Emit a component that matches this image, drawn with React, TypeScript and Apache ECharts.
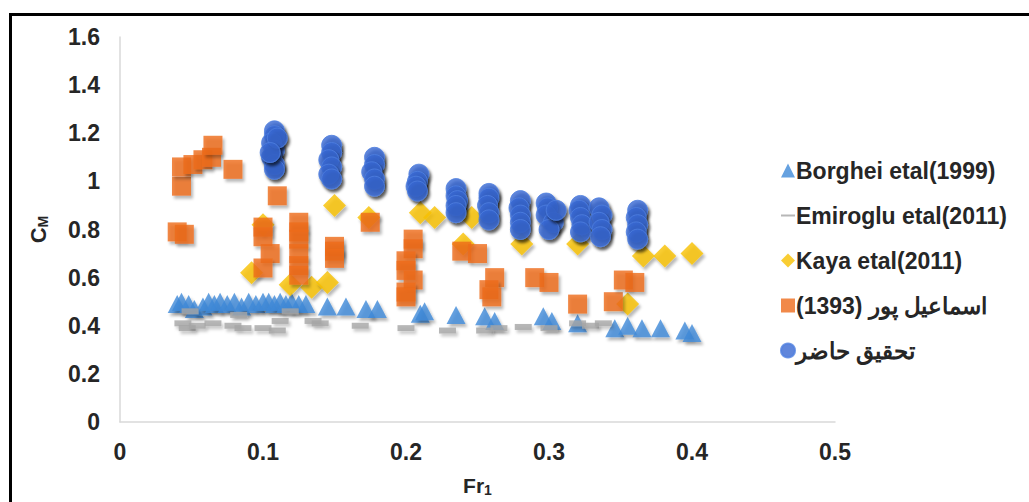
import React, { useEffect, useRef } from "react";
import * as echarts from "echarts";

const xTicks = [0, 0.1, 0.2, 0.3, 0.4, 0.5];
const yTicks = [0, 0.2, 0.4, 0.6, 0.8, 1, 1.2, 1.4, 1.6];

const seriesNames = [
  "Borghei etal(1999)",
  "Emiroglu etal(2011)",
  "Kaya etal(2011)",
  "(1393) اسماعیل پور",
  "تحقیق حاضر",
];

const borghei: number[][] = [
  [0.04, 0.49], [0.043, 0.5], [0.048, 0.49], [0.052, 0.47], [0.058, 0.48], [0.062, 0.5],
  [0.066, 0.49], [0.07, 0.5], [0.075, 0.49], [0.08, 0.5], [0.085, 0.48], [0.09, 0.5],
  [0.095, 0.49], [0.1, 0.5], [0.104, 0.5], [0.108, 0.49], [0.112, 0.5], [0.116, 0.49],
  [0.12, 0.5], [0.125, 0.49], [0.13, 0.49], [0.145, 0.48], [0.158, 0.48], [0.172, 0.47],
  [0.18, 0.47], [0.21, 0.45], [0.213, 0.46], [0.235, 0.445], [0.255, 0.44], [0.262, 0.42],
  [0.296, 0.44], [0.302, 0.42], [0.32, 0.41], [0.346, 0.39], [0.355, 0.4], [0.365, 0.39],
  [0.378, 0.39], [0.395, 0.38], [0.4, 0.37],
];

const emiroglu: number[][] = [
  [0.044, 0.41], [0.047, 0.39], [0.049, 0.46], [0.054, 0.4], [0.065, 0.41], [0.079, 0.4],
  [0.083, 0.445], [0.086, 0.39], [0.1, 0.39], [0.11, 0.38], [0.112, 0.42], [0.119, 0.46],
  [0.135, 0.42], [0.14, 0.41], [0.168, 0.4], [0.2, 0.39], [0.229, 0.38], [0.255, 0.38],
  [0.265, 0.39], [0.282, 0.395], [0.3, 0.39], [0.32, 0.41], [0.329, 0.4], [0.338, 0.41],
];

const kaya: number[][] = [
  [0.092, 0.62], [0.1, 0.82], [0.119, 0.57], [0.134, 0.56], [0.145, 0.58], [0.15, 0.9],
  [0.174, 0.85], [0.21, 0.87], [0.22, 0.85], [0.246, 0.85], [0.24, 0.74], [0.281, 0.74],
  [0.32, 0.74], [0.355, 0.49], [0.366, 0.69], [0.381, 0.69], [0.4, 0.7],
];

const esmaeilpour: number[][] = [
  [0.04, 0.79], [0.045, 0.78], [0.043, 0.98], [0.043, 1.06], [0.051, 1.07], [0.058, 1.09],
  [0.064, 1.1], [0.065, 1.15], [0.079, 1.05], [0.11, 0.94], [0.1, 0.81], [0.1, 0.77],
  [0.105, 0.7], [0.1, 0.64], [0.125, 0.83], [0.125, 0.79], [0.125, 0.76], [0.125, 0.7],
  [0.125, 0.65], [0.125, 0.61], [0.15, 0.73], [0.15, 0.71], [0.15, 0.68], [0.175, 0.83],
  [0.205, 0.76], [0.205, 0.72], [0.2, 0.67], [0.2, 0.63], [0.205, 0.59], [0.2, 0.54],
  [0.2, 0.52], [0.239, 0.71], [0.25, 0.7], [0.262, 0.6], [0.258, 0.55], [0.26, 0.52],
  [0.29, 0.6], [0.3, 0.58], [0.32, 0.49], [0.345, 0.5], [0.352, 0.59], [0.36, 0.58],
];

const present: number[][] = [
  [0.108, 1.21], [0.108, 1.19], [0.106, 1.16], [0.108, 1.13], [0.106, 1.1], [0.108, 1.07], [0.108, 1.05], [0.11, 1.18], [0.105, 1.12],
  [0.148, 1.15], [0.148, 1.12], [0.146, 1.09], [0.148, 1.06], [0.146, 1.03], [0.148, 1.01],
  [0.178, 1.1], [0.178, 1.07], [0.176, 1.04], [0.178, 1.01], [0.178, 0.98],
  [0.209, 1.03], [0.208, 1.0], [0.207, 0.98], [0.208, 0.96],
  [0.235, 0.97], [0.235, 0.94], [0.236, 0.92], [0.235, 0.9], [0.235, 0.87],
  [0.258, 0.95], [0.258, 0.93], [0.257, 0.9], [0.258, 0.87], [0.258, 0.84],
  [0.28, 0.92], [0.279, 0.89], [0.28, 0.86], [0.28, 0.83], [0.28, 0.8],
  [0.298, 0.91], [0.299, 0.89], [0.298, 0.86], [0.303, 0.83], [0.3, 0.8], [0.305, 0.88],
  [0.322, 0.9], [0.321, 0.88], [0.322, 0.85], [0.323, 0.82], [0.322, 0.79],
  [0.335, 0.89], [0.337, 0.86], [0.335, 0.83], [0.337, 0.8], [0.336, 0.77],
  [0.362, 0.88], [0.361, 0.85], [0.362, 0.82], [0.361, 0.79], [0.362, 0.76],
];

const FONT = "'Liberation Sans', Arial, sans-serif";
const shadow = { shadowBlur: 3, shadowOffsetX: 2, shadowOffsetY: 3, shadowColor: "rgba(0,0,0,0.35)" };

export default function App() {
  const ref = useRef<HTMLDivElement>(null);
  useEffect(() => {
    if (!ref.current) return;
    const chart = echarts.init(ref.current, undefined, { renderer: "svg" });
    chart.setOption({
      animation: false,
      backgroundColor: "#ffffff",
      textStyle: { fontFamily: FONT },
      grid: { left: 120, right: 194, top: 37, bottom: 72, containLabel: false },
      graphic: [
        { type: "line", shape: { x1: 9, y1: 14.5, x2: 1029, y2: 14.5 }, style: { stroke: "#000", lineWidth: 3 } },
        { type: "line", shape: { x1: 10.5, y1: 13, x2: 10.5, y2: 502 }, style: { stroke: "#000", lineWidth: 3 } },
      ],
      xAxis: {
        type: "value",
        min: xTicks[0],
        max: xTicks[xTicks.length - 1],
        interval: 0.1,
        axisLine: { show: true, onZero: false, lineStyle: { color: "#d9d9d9", width: 1.5 } },
        axisTick: { show: false },
        splitLine: { show: false },
        axisLabel: { fontSize: 23, fontWeight: "bold", color: "#262626", margin: 18, fontFamily: FONT },
        name: "{a|Fr}{b|1}",
        nameLocation: "middle",
        nameGap: 51,
        nameTextStyle: {
          rich: {
            a: { fontSize: 21, fontWeight: "bold", color: "#262626", fontFamily: FONT },
            b: { fontSize: 14, fontWeight: "bold", color: "#262626", fontFamily: FONT, padding: [10, 0, 0, 0] },
          },
        },
      },
      yAxis: {
        type: "value",
        min: yTicks[0],
        max: yTicks[yTicks.length - 1],
        interval: 0.2,
        axisLine: { show: true, onZero: false, lineStyle: { color: "#d9d9d9", width: 1.5 } },
        axisTick: { show: false },
        splitLine: { show: false },
        axisLabel: { fontSize: 23, fontWeight: "bold", color: "#262626", margin: 20, fontFamily: FONT },
        name: "{a|C}{b|M}",
        nameLocation: "middle",
        nameRotate: 90,
        nameGap: 70,
        nameTextStyle: {
          rich: {
            a: { fontSize: 22, fontWeight: "bold", color: "#262626", fontFamily: FONT },
            b: { fontSize: 14, fontWeight: "bold", color: "#262626", fontFamily: FONT, padding: [10, 0, 0, 0] },
          },
        },
      },
      legend: {
        orient: "vertical",
        left: 775,
        top: 154,
        itemWidth: 14,
        itemHeight: 14,
        itemGap: 22,
        textStyle: { fontSize: 23, fontWeight: "bold", color: "#262626", fontFamily: FONT, padding: [0, 0, 0, -4] },
        data: [
          { name: seriesNames[0], icon: "triangle" },
          { name: seriesNames[1], icon: "path://M0,0M0,6L14,6L14,8L0,8ZM14,14" },
          { name: seriesNames[2], icon: "diamond" },
          { name: seriesNames[3], icon: "rect" },
          { name: seriesNames[4], icon: "circle" },
        ],
      },
      series: [
        {
          name: seriesNames[0], type: "scatter", data: borghei, symbol: "triangle", symbolSize: [19, 18],
          itemStyle: { color: "#3f8ad8", ...shadow },
        },
        {
          name: seriesNames[1], type: "scatter", data: emiroglu, symbol: "rect", symbolSize: [17, 6],
          itemStyle: { color: "#a5a5a5", ...shadow, shadowColor: "rgba(0,0,0,0.25)" },
        },
        {
          name: seriesNames[2], type: "scatter", data: kaya, symbol: "diamond", symbolSize: [23, 23],
          itemStyle: { color: "#f8c000", ...shadow },
        },
        {
          name: seriesNames[3], type: "scatter", data: esmaeilpour, symbol: "rect", symbolSize: [19, 19],
          itemStyle: { color: "#ee6c1c", ...shadow },
        },
        {
          name: seriesNames[4], type: "scatter", data: present, symbol: "circle", symbolSize: [20, 20],
          itemStyle: { color: "#3868d2", borderColor: "#4f80e0", borderWidth: 1, ...shadow, shadowColor: "rgba(0,0,0,0.8)" },
        },
      ],
    });
    return () => chart.dispose();
  }, []);
  return (
    <div
      ref={ref}
      style={{ position: "absolute", left: 0, top: 0, width: 1029, height: 502, background: "#fff" }}
    />
  );
}
